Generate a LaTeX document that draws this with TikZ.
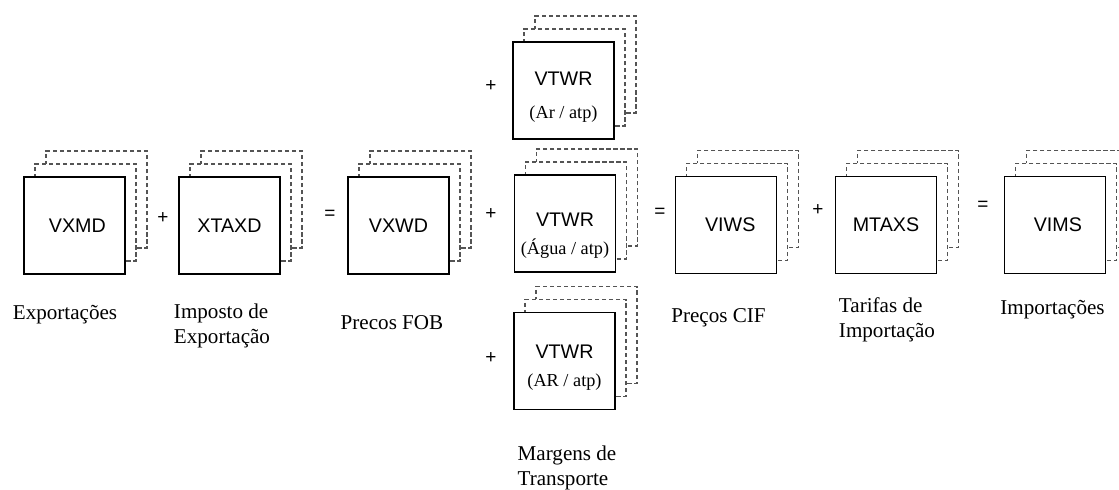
\documentclass[tikz,border=0pt]{standalone}
\usepackage{fontspec}
\setmainfont{Liberation Serif}
\setsansfont{Liberation Sans}
\usepackage{tikz}
\usetikzlibrary{shapes}
\definecolor{dashcol}{rgb}{0.33,0.33,0.33}
\tikzstyle{every picture}=[x=0.025cm,y=-0.025cm]
\tikzstyle{varbox}=[rectangle,draw,fill=white,line width=0.75pt,minimum width=2.525cm,minimum height=2.425cm,inner sep=0pt,align=center,font=\sffamily\fontsize{14}{18}\selectfont]
\tikzstyle{copybox}=[varbox,draw=dashcol,dash pattern=on 3pt off 2pt]
\tikzstyle{caption}=[align=left,inner sep=0pt,font=\rmfamily\fontsize{15}{18}\selectfont]
\tikzstyle{op}=[inner sep=0pt,font=\sffamily\fontsize{13.5}{15}\selectfont]
\newcommand{\sub}[1]{{\rmfamily\fontsize{13}{15}\selectfont #1}}

\begin{document}
\begin{tikzpicture}
\useasboundingbox (0,0) rectangle (1119,489);
% dashed copies behind each variable
\foreach \nm/\x/\y in {vxmd/74.5/225.5, xtaxd/229.5/225.5, vxwd/398.5/225.5, vtwra/563.5/90.5, vtwrb/565/223.5, vtwrc/564.5/361, viws/726/225, mtaxs/886/225, vims/1055/225}
{
  \node[copybox] (\nm-2) at (\x+22,\y-26) {};
  \node[copybox] (\nm-1) at (\x+11,\y-13) {};
}
% variables
\node[varbox] (vxmd) at (74.5,225.5) {\hspace{4pt}VXMD};
\node[varbox] (xtaxd) at (229.5,225.5) {XTAXD};
\node[varbox] (vxwd) at (398.5,225.5) {VXWD};
\node[varbox] (vtwra) at (563.5,90.5) {\rule{0pt}{19pt}VTWR\\[6pt]\sub{(Ar / atp)}};
\node[varbox] (vtwrb) at (565,223.5) {\rule{0pt}{27pt}VTWR\\[2pt]\sub{(Água / atp)}};
\node[varbox] (vtwrc) at (564.5,361) {\rule{0pt}{19pt}VTWR\\[2pt]\sub{(AR / atp)}};
\node[varbox] (viws) at (726,225) {\hspace{6pt}VIWS};
\node[varbox] (mtaxs) at (886,225) {MTAXS};
\node[varbox] (vims) at (1055,225) {\hspace{4pt}VIMS};
% operators
\node[op] (p1) at (163,218) {+};
\node[op] (e1) at (330,215) {=};
\node[op] (p2) at (491,86) {+};
\node[op] (p3) at (491,214) {+};
\node[op] (p4) at (491,358) {+};
\node[op] (e2) at (660,213) {=};
\node[op] (p5) at (818,210) {+};
\node[op] (e3) at (983,206) {=};
% captions
\node[caption] (cvxmd) at (65,315) {Exportações};
\node[caption] (cxtaxd) at (222,326) {Imposto de\\Exportação};
\node[caption] (cvxwd) at (392,323) {Precos FOB};
\node[caption] (cvtwr) at (567,468) {Margens de\\Transporte};
\node[caption] (cviws) at (718.5,318) {Preços CIF};
\node[caption] (cmtaxs) at (887,320) {Tarifas de\\Importação};
\node[caption] (cvims) at (1052.5,310) {Importações};
\end{tikzpicture}
\end{document}
